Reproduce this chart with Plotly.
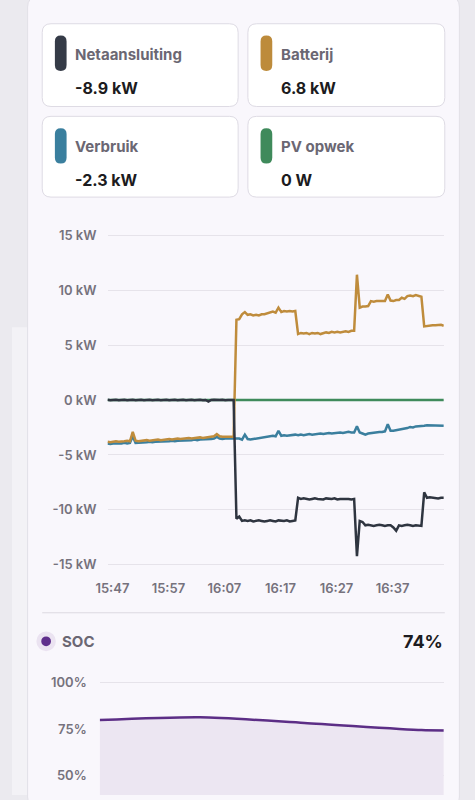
import pandas as pd
import plotly.graph_objects as go

# ---------------- data ----------------
start_time = "2024-05-01 15:46:08"
sample_step = "30s"
n_samples = 121

netaansluiting_kw = [
    0.02, -0.03, 0.0, 0.03, -0.02, 0.0, 0.02, -0.03, 0.0, 0.02,
    -0.02, 0.0, 0.03, -0.02, 0.0, 0.02, -0.03, 0.0, 0.02, -0.02,
    0.0, 0.03, -0.02, 0.0, 0.02, -0.03, 0.0, 0.02, -0.02, 0.0,
    0.03, -0.02, 0.0, 0.02, -0.03, 0.0, -0.15, 0.0, 0.02, -0.02,
    0.0, 0.03, -0.02, 0.0, 0.02, 0.0, -10.8, -10.6, -11.0, -10.95,
    -11.0, -10.95, -11.05, -11.0, -10.95, -11.0, -11.05, -11.0, -10.95, -11.0,
    -11.05, -10.95, -11.0, -11.0, -10.95, -11.05, -11.0, -10.95, -8.9, -9.0,
    -8.95, -9.0, -9.05, -9.0, -8.95, -9.0, -9.0, -9.05, -8.95, -9.0,
    -9.0, -8.95, -9.05, -9.0, -9.0, -8.95, -9.0, -9.05, -9.0, -14.2,
    -11.0, -11.1, -11.4, -11.35, -11.4, -11.45, -11.4, -11.35, -11.4, -11.45,
    -11.4, -11.4, -11.6, -11.9, -11.4, -11.45, -11.4, -11.35, -11.4, -11.45,
    -11.4, -11.4, -11.45, -8.4, -8.9, -8.85, -8.9, -8.9, -8.95, -8.9,
    -8.9,
]

batterij_kw = [
    -3.8, -3.85, -3.8, -3.75, -3.8, -3.8, -3.75, -3.7, -3.75, -2.9,
    -3.7, -3.75, -3.7, -3.7, -3.65, -3.7, -3.65, -3.65, -3.6, -3.65,
    -3.6, -3.6, -3.55, -3.6, -3.55, -3.5, -3.55, -3.5, -3.5, -3.45,
    -3.5, -3.45, -3.45, -3.4, -3.45, -3.4, -3.4, -3.35, -3.3, -3.1,
    -3.3, -3.35, -3.35, -3.3, -3.35, -3.35, 7.3, 7.35, 7.8, 8.0,
    7.75, 7.8, 7.7, 7.75, 7.7, 7.8, 7.8, 7.9, 8.0, 8.05,
    7.95, 8.4, 8.0, 8.1, 8.05, 8.1, 8.05, 8.1, 6.0, 6.1,
    6.05, 6.1, 6.0, 6.1, 6.05, 6.1, 6.0, 6.1, 6.15, 6.1,
    6.2, 6.15, 6.2, 6.15, 6.2, 6.25, 6.2, 6.3, 6.3, 11.4,
    8.4, 8.5, 8.5, 8.55, 9.0, 8.95, 9.0, 9.0, 9.05, 9.0,
    9.6, 9.05, 9.0, 9.1, 9.1, 9.3, 9.2, 9.45, 9.5, 9.45,
    9.55, 9.45, 9.4, 6.7, 6.75, 6.75, 6.8, 6.8, 6.8, 6.85,
    6.75,
]

verbruik_kw = [
    -3.95, -4.0, -3.95, -3.95, -4.0, -3.95, -3.9, -3.95, -3.9, -3.3,
    -3.9, -3.9, -3.85, -3.85, -3.85, -3.8, -3.85, -3.8, -3.8, -3.75,
    -3.8, -3.75, -3.75, -3.7, -3.75, -3.7, -3.7, -3.65, -3.7, -3.65,
    -3.65, -3.6, -3.65, -3.6, -3.6, -3.55, -3.6, -3.55, -3.5, -3.35,
    -3.5, -3.55, -3.5, -3.5, -3.55, -3.5, -3.55, -3.5, -3.6, -3.15,
    -3.55, -3.6, -3.55, -3.5, -3.45, -3.4, -3.35, -3.3, -3.3, -3.25,
    -3.3, -2.8, -3.25, -3.2, -3.25, -3.2, -3.2, -3.15, -3.2, -3.15,
    -3.2, -3.15, -3.1, -3.15, -3.1, -3.1, -3.05, -3.1, -3.05, -3.0,
    -3.05, -3.0, -3.0, -2.95, -3.0, -2.95, -2.9, -2.95, -2.95, -2.4,
    -2.95, -3.05, -3.15, -3.05, -3.0, -3.0, -2.95, -2.9, -2.9, -2.85,
    -2.2, -2.8, -2.8, -2.75, -2.7, -2.7, -2.6, -2.55, -2.45, -2.5,
    -2.4, -2.4, -2.35, -2.35, -2.3, -2.3, -2.3, -2.3, -2.3, -2.3,
    -2.35,
]

pv_opwek_kw = [0.0] * n_samples

y_tick_values = [-15, -10, -5, 0, 5, 10, 15]
y_tick_labels = ["-15 kW", "-10 kW", "-5 kW", "0 kW", "5 kW", "10 kW", "15 kW"]
x_tick_times = ["2024-05-01 15:47", "2024-05-01 15:57", "2024-05-01 16:07",
                "2024-05-01 16:17", "2024-05-01 16:27", "2024-05-01 16:37"]
x_tick_labels = ["15:47", "15:57", "16:07", "16:17", "16:27", "16:37"]

soc_times = ["2024-05-01 15:46:08", "2024-05-01 16:03:38", "2024-05-01 16:21:50",
             "2024-05-01 16:42:14", "2024-05-01 16:46:08"]
soc_values = [79.8, 81.3, 78.3, 74.4, 74.2]
soc_tick_values = [50, 75, 100]
soc_tick_labels = ["50%", "75%", "100%"]

cards = [
    ("Netaansluiting", "-8.9 kW", "#353b47"),
    ("Batterij", "6.8 kW", "#bd8b3b"),
    ("Verbruik", "-2.3 kW", "#3a7f9e"),
    ("PV opwek", "0 W", "#3f8a5b"),
]
soc_label = "SOC"
soc_current = "74%"

# ---------------- styling ----------------
W, H = 475, 800
C_BG = "#ebeaef"
C_GRID = "#e6e3ea"
C_TICK = "#76727d"
C_LABEL = "#6b6773"
C_VALUE = "#1c1b20"
FONT = "Inter, Roboto, sans-serif"

times = pd.date_range(start_time, periods=n_samples, freq=sample_step)
x_range = [times[0], times[-1]]


def px(x):
    return x / W


def py(y):
    return 1 - y / H


def rrect(x0, y0, x1, y1, r):
    pts = [
        ("M", (x0 + r, y0)), ("L", (x1 - r, y0)), ("Q", (x1, y0), (x1, y0 + r)),
        ("L", (x1, y1 - r)), ("Q", (x1, y1), (x1 - r, y1)), ("L", (x0 + r, y1)),
        ("Q", (x0, y1), (x0, y1 - r)), ("L", (x0, y0 + r)), ("Q", (x0, y0), (x0 + r, y0)),
    ]
    s = ""
    for p in pts:
        s += p[0] + " " + " ".join(f"{px(a):.5f},{py(b):.5f}" for a, b in p[1:]) + " "
    return s + "Z"


fig = go.Figure()

# main chart traces (drawing order: PV, verbruik, batterij, net)
fig.add_trace(go.Scatter(x=times, y=pv_opwek_kw, mode="lines",
                         line=dict(color="#3f8a5b", width=2.5), xaxis="x", yaxis="y"))
fig.add_trace(go.Scatter(x=times, y=verbruik_kw, mode="lines",
                         line=dict(color="#3b7f9e", width=2.5), xaxis="x", yaxis="y"))
fig.add_trace(go.Scatter(x=times, y=batterij_kw, mode="lines",
                         line=dict(color="#bf8c3c", width=2.5), xaxis="x", yaxis="y"))
fig.add_trace(go.Scatter(x=times, y=netaansluiting_kw, mode="lines",
                         line=dict(color="#2f3540", width=2.5), xaxis="x", yaxis="y"))

# SOC chart
fig.add_trace(go.Scatter(x=pd.to_datetime(soc_times), y=soc_values, mode="lines",
                         line=dict(color="#5c2e86", width=2.5, shape="spline", smoothing=0.7),
                         fill="tozeroy", fillcolor="#ece6f2", xaxis="x2", yaxis="y2"))

# main chart geometry: 0 kW at y=399, 11.16 px per kW
kw_px = 11.16
y_main_range = [-15.2, 15.2]
main_top = 399 - y_main_range[1] * kw_px
main_bot = 399 - y_main_range[0] * kw_px

# SOC geometry: 75% at y=733, 1.88 px per %
soc_range = [75 - (H - 733) / 1.88, 100.6]
soc_top = 733 - (soc_range[1] - 75) * 1.88

shapes = []
# left light band
shapes.append(dict(type="rect", xref="paper", yref="paper", x0=0, x1=px(16), y0=0, y1=py(325),
                   fillcolor="#f3f2f6", line=dict(width=0), layer="below"))
# panel
shapes.append(dict(type="path", xref="paper", yref="paper", path=rrect(16, -10, 459, 812, 10),
                   fillcolor="#f9f7fc", line=dict(color="#e2e0e7", width=1), layer="below"))
card_boxes = [(31, 17, 232, 101), (242, 17, 444, 101), (31, 111, 232, 193), (242, 111, 444, 193)]
for (x0, y0, x1, y1), (label, value, color) in zip(card_boxes, cards):
    shapes.append(dict(type="path", xref="paper", yref="paper", path=rrect(x0, y0, x1, y1, 9),
                       fillcolor="#ffffff", line=dict(color="#dedbe4", width=1), layer="below"))
    shapes.append(dict(type="path", xref="paper", yref="paper",
                       path=rrect(x0 + 13, y0 + 12, x0 + 25, y0 + 48, 6),
                       fillcolor=color, line=dict(width=0), layer="below"))
# divider
shapes.append(dict(type="line", xref="paper", yref="paper", x0=px(31), x1=px(444), y0=py(615), y1=py(615),
                   line=dict(color="#dcd9e1", width=1), layer="below"))
# SOC dot
shapes.append(dict(type="circle", xref="paper", yref="paper", x0=px(25), x1=px(45), y0=py(654), y1=py(634),
                   fillcolor="#ebe3f1", line=dict(width=0)))
shapes.append(dict(type="circle", xref="paper", yref="paper", x0=px(30), x1=px(40), y0=py(649), y1=py(639),
                   fillcolor="#5f2e8c", line=dict(width=0)))

annotations = []
for (x0, y0, x1, y1), (label, value, color) in zip(card_boxes, cards):
    annotations.append(dict(xref="paper", yref="paper", x=px(x0 + 32), y=py(y0 + 31), text=label,
                            showarrow=False, xanchor="left", yanchor="middle",
                            font=dict(family=FONT, size=15, color=C_LABEL, weight=700)))
    annotations.append(dict(xref="paper", yref="paper", x=px(x0 + 32), y=py(y0 + 65), text=value,
                            showarrow=False, xanchor="left", yanchor="middle",
                            font=dict(family=FONT, size=16, color=C_VALUE, weight=700)))
annotations.append(dict(xref="paper", yref="paper", x=px(49), y=py(644), text=soc_label,
                        showarrow=False, xanchor="left", yanchor="middle",
                        font=dict(family=FONT, size=15, color=C_LABEL, weight=700)))
annotations.append(dict(xref="paper", yref="paper", x=px(444), y=py(644), text=soc_current,
                        showarrow=False, xanchor="right", yanchor="middle",
                        font=dict(family=FONT, size=18, color=C_VALUE, weight=700)))

fig.update_layout(
    width=W, height=H,
    margin=dict(l=0, r=0, t=0, b=0),
    paper_bgcolor=C_BG,
    plot_bgcolor="rgba(0,0,0,0)",
    showlegend=False,
    hovermode=False,
    shapes=shapes,
    annotations=annotations,
    xaxis=dict(domain=[px(98), px(443)], anchor="y", type="date", range=x_range,
               tickvals=pd.to_datetime(x_tick_times), ticktext=x_tick_labels,
               showgrid=False, zeroline=False, showline=False, ticks="",
               ticklabelstandoff=12,
               tickfont=dict(family=FONT, size=13, color=C_TICK, weight=600)),
    yaxis=dict(domain=[py(main_bot), py(main_top)], anchor="x", range=y_main_range,
               tickvals=y_tick_values, ticktext=y_tick_labels,
               showgrid=True, gridcolor=C_GRID, gridwidth=1, zeroline=False, showline=False,
               ticks="", ticklabelstandoff=10,
               tickfont=dict(family=FONT, size=13, color=C_TICK, weight=600)),
    xaxis2=dict(domain=[px(90), px(443)], anchor="y2", type="date", range=x_range,
                showticklabels=False, showgrid=False, zeroline=False, showline=False, ticks=""),
    yaxis2=dict(domain=[0, py(soc_top)], anchor="x2", range=soc_range,
                tickvals=soc_tick_values, ticktext=soc_tick_labels,
                showgrid=True, gridcolor=C_GRID, gridwidth=1, zeroline=False, showline=False,
                ticks="", ticklabelstandoff=12,
                tickfont=dict(family=FONT, size=13, color=C_TICK, weight=600)),
)

fig.write_html(
    "out.html",
    config={"displayModeBar": False, "staticPlot": True},
    post_script="document.body.style.margin='0';document.body.style.padding='0';"
                "document.body.style.background='" + C_BG + "';"
                "document.body.style.overflow='hidden';",
)
